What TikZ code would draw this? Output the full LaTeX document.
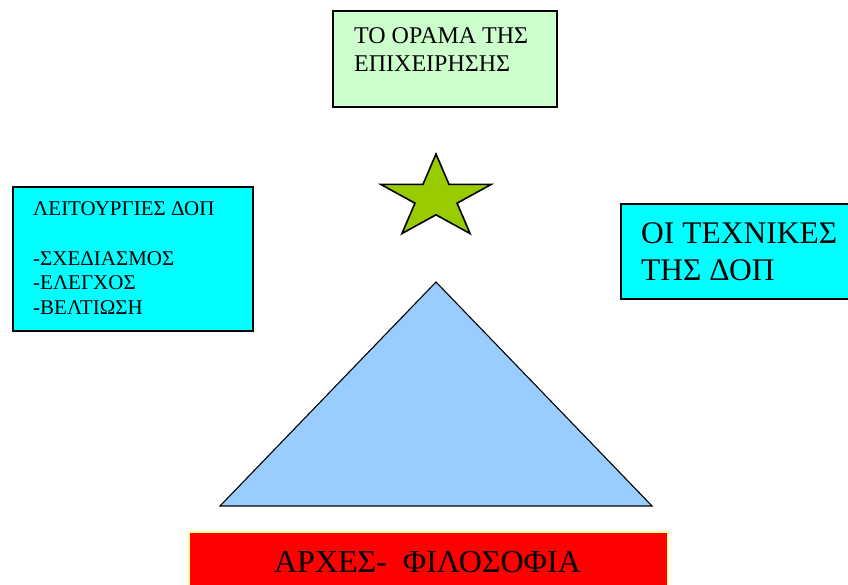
\documentclass[tikz,border=0pt]{standalone}
\usepackage{fontspec}
\setmainfont{Liberation Serif}
\definecolor{visiongreen}{HTML}{CCFFCC}
\definecolor{boxcyan}{HTML}{00FFFF}
\definecolor{pyramidblue}{HTML}{99CCFF}
\definecolor{stargreen}{HTML}{99CC00}
\definecolor{baseyellow}{HTML}{FFFF99}
\begin{document}
\begin{tikzpicture}[x=1pt,y=-1pt,
  panel/.style={draw=black, line width=1.8pt, rectangle, inner sep=0pt, anchor=north west},
  label/.style={inner sep=0pt, align=left, anchor=north west}]
\useasboundingbox (0,0) rectangle (848,585);
\clip (0,0) rectangle (848,585);

% vision box
\node[panel, fill=visiongreen, minimum width=224pt, minimum height=96pt] (vision) at (332,10) {};
\node[label, font=\fontsize{24}{28}\selectfont] (visiontext) at (354,27)
  {ΤΟ ΟΡΑΜΑ ΤΗΣ\\ΕΠΙΧΕΙΡΗΣΗΣ};

% functions box
\node[panel, fill=boxcyan, minimum width=240pt, minimum height=144pt] (functions) at (12,186) {};
\node[label, font=\fontsize{21}{24.7}\selectfont] (functionstext) at (33,201.5)
  {ΛΕΙΤΟΥΡΓΙΕΣ ΔΟΠ\\\mbox{}\\-ΣΧΕΔΙΑΣΜΟΣ\\-ΕΛΕΓΧΟΣ\\-ΒΕΛΤΙΩΣΗ};

% techniques box
\node[panel, fill=boxcyan, minimum width=250pt, minimum height=95pt] (techniques) at (620,203) {};
\node[label, font=\fontsize{31.5}{37}\selectfont] (techniquestext) at (641,222)
  {ΟΙ ΤΕΧΝΙΚΕΣ\\ΤΗΣ ΔΟΠ};

% star
\begin{scope}[shift={(436,198)}, xscale=58, yscale=-44]
  \coordinate (s0) at (90:1);    \coordinate (s1) at (126:0.382);
  \coordinate (s2) at (162:1);   \coordinate (s3) at (198:0.382);
  \coordinate (s4) at (234:1);   \coordinate (s5) at (270:0.382);
  \coordinate (s6) at (306:1);   \coordinate (s7) at (342:0.382);
  \coordinate (s8) at (18:1);    \coordinate (s9) at (54:0.382);
\end{scope}
\draw[fill=stargreen, line width=1.6pt, line join=miter]
  (s0) -- (s1) -- (s2) -- (s3) -- (s4) -- (s5) -- (s6) -- (s7) -- (s8) -- (s9) -- cycle;

% pyramid
\coordinate (apex) at (436,282);
\coordinate (baseL) at (220,506);
\coordinate (baseR) at (652,506);
\draw[fill=pyramidblue, line width=1.1pt] (apex) -- (baseL) -- (baseR) -- cycle;

% principles bar
\node[draw=baseyellow, fill=red, line width=1.5pt, minimum width=479pt, minimum height=70pt,
      inner sep=0pt, anchor=north west] (principles) at (188,531) {};
\node[inner sep=0pt, anchor=base, font=\fontsize{32}{38}\selectfont] (principlestext) at (427.5,572)
  {ΑΡΧΕΣ-\ \ ΦΙΛΟΣΟΦΙΑ};
\end{tikzpicture}
\end{document}
